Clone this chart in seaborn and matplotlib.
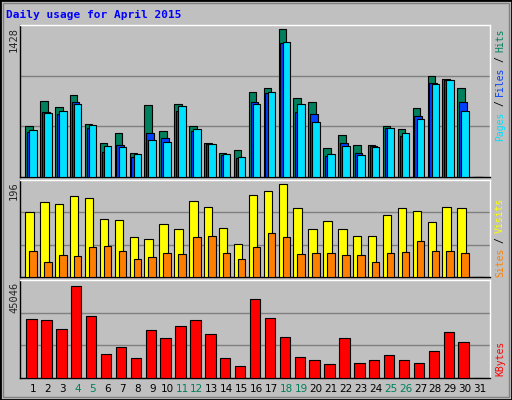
import numpy as np
import matplotlib
matplotlib.use("Agg")
import matplotlib.pyplot as plt
import seaborn as sns
from matplotlib.patches import Rectangle

sns.set_style("white")
plt.rcParams['font.family'] = ['DejaVu Sans']

days = list(range(1, 32))
weekend = [4, 5, 11, 12, 18, 19, 25, 26]
hits = [492, 735, 677, 793, 511, 327, 424, 230, 696, 447, 706, 492, 327, 230, 259, 822, 861, 1428, 758, 719, 282, 408, 311, 311, 492, 463, 667, 971, 942, 861, 0]
files = [437, 631, 612, 728, 476, 243, 311, 194, 427, 379, 641, 447, 321, 214, 185, 728, 806, 1292, 631, 612, 204, 327, 233, 301, 476, 398, 593, 903, 932, 719, 0]
pages = [453, 622, 635, 709, 505, 301, 291, 224, 359, 340, 690, 466, 321, 224, 194, 709, 816, 1302, 709, 528, 224, 301, 214, 291, 476, 427, 563, 893, 932, 641, 0]
visits = [136, 157, 153, 170, 166, 122, 119, 83, 79, 111, 100, 160, 147, 104, 70, 173, 181, 196, 145, 100, 117, 100, 87, 87, 130, 145, 138, 115, 147, 145, 0]
sites = [55, 32, 47, 45, 62, 66, 55, 38, 43, 51, 49, 83, 87, 51, 38, 62, 92, 85, 49, 51, 51, 47, 47, 32, 51, 53, 75, 55, 55, 51, 0]
kbytes = [28712, 28217, 23762, 45046, 30197, 11880, 15345, 9900, 23267, 19305, 25245, 28217, 21285, 9900, 5940, 38610, 29207, 19800, 10395, 8910, 6930, 19305, 7425, 8910, 11385, 8910, 7425, 13365, 22275, 17820, 0]

BG = "#C0C0C0"
fig = plt.figure(figsize=(5.12, 4.0), dpi=100, facecolor=BG)
W, H = 512, 400

def ax_px(x0, y0, x1, y1):
    return fig.add_axes([x0 / W, 1 - y1 / H, (x1 - x0) / W, (y1 - y0) / H])

xlim = (0.127, 31.67)
d = np.array(days, dtype=float)

def style(ax, top):
    ax.set_facecolor(BG)
    ax.set_xlim(*xlim)
    ax.set_ylim(0, top)
    for g in (top / 3, 2 * top / 3):
        ax.axhline(g, color="#808080", lw=1, zorder=0)
    ax.set_xticks([]); ax.set_yticks([])
    for s in ("left", "bottom"):
        ax.spines[s].set_color("black")
    for s in ("top", "right"):
        ax.spines[s].set_color("white")
    for s in ax.spines.values():
        s.set_linewidth(1)

ec = dict(edgecolor="black", linewidth=0.8, zorder=3)

ax1 = ax_px(20, 25, 490, 177)
style(ax1, 1428 * 453 / 441)
ax1.bar(d - 0.52, hits, width=0.50, align="edge", color="#00805C", **ec)
ax1.bar(d - 0.40, files, width=0.51, align="edge", color="#0040FF", **ec)
ax1.bar(d - 0.25, pages, width=0.50, align="edge", color="#00E0FF", **ec)

ax2 = ax_px(20, 180, 490, 277)
style(ax2, 196 * 287 / 276)
ax2.bar(d - 0.52, visits, width=0.56, align="edge", color="#FFFF00", **ec)
ax2.bar(d - 0.25, sites, width=0.50, align="edge", color="#FF8000", **ec)

ax3 = ax_px(20, 280, 490, 378)
style(ax3, 45046 * 290 / 273)
ax3.bar(d - 0.45, kbytes, width=0.70, align="edge", color="#FF0000", **ec)

for day in days:
    fx = (20 + (day - xlim[0]) / (xlim[1] - xlim[0]) * 470) / W
    fig.text(fx, 1 - 389 / H, str(day), ha="center", va="center", fontsize=7.5,
             color="#00805C" if day in weekend else "black")

mono = "DejaVu Sans Mono"
fig.text(6 / W, 1 - 15 / H, "Daily usage for April 2015", color="#0000FF",
         fontsize=8, fontweight="bold", family=mono, ha="left", va="center")

for lab, ytop in (("1428", 27), ("196", 181), ("45046", 282)):
    fig.text(14 / W, 1 - ytop / H, lab, rotation=90, ha="center", va="top",
             fontsize=7.5, family=mono)

def right_label(pieces, ytop):
    pitch = 5.55
    y = ytop
    for i, (txt, col) in enumerate(pieces):
        if i > 0:
            fig.text(500 / W, 1 - (y + pitch) / H, "/", rotation=90, ha="center", va="top",
                     fontsize=7, family=mono, color="black")
            y += 3 * pitch
        fig.text(500 / W, 1 - y / H, txt, rotation=90, ha="center", va="top",
                 fontsize=7, family=mono, color=col)
        y += len(txt) * pitch

right_label([("Hits", "#00805C"), ("Files", "#0040FF"), ("Pages", "#00E0FF")], 28)
right_label([("Visits", "#FFFF00"), ("Sites", "#FF8000")], 198)
right_label([("KBytes", "#FF0000")], 341)

fig.patches.append(Rectangle((0, 0), 1, 1, transform=fig.transFigure, fill=False,
                             edgecolor="black", lw=2))
fig.patches.append(Rectangle((3 / W, 3 / H), 1 - 6 / W, 1 - 6 / H, transform=fig.transFigure,
                             fill=False, edgecolor="#808080", lw=1))

fig.savefig("out.png", dpi=100, facecolor=BG)
